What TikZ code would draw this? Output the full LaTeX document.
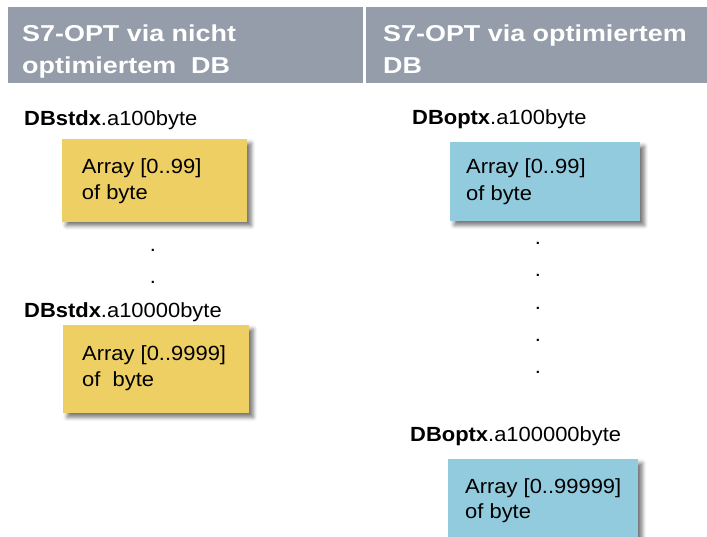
\documentclass[tikz,border=0pt]{standalone}
\usepackage{fontspec}
\setmainfont{Liberation Sans}[FakeStretch=1.07]
\newfontfamily\headfont{Liberation Sans}[FakeStretch=1.17]
\usetikzlibrary{shadows.blur}

\definecolor{headgray}{RGB}{148,157,169}
\definecolor{boxyellow}{RGB}{237,207,99}
\definecolor{boxblue}{RGB}{146,203,221}

\tikzset{
  headband/.style={fill=headgray, draw=none},
  headtxt/.style={text=white, anchor=base west, inner sep=0pt,
    font=\headfont\bfseries\fontsize{23}{27}\selectfont},
  bodytxt/.style={anchor=base west, inner sep=0pt,
    font=\fontsize{20.5}{24}\selectfont},
  dotmark/.style={anchor=base, inner sep=0pt,
    font=\fontsize{20.5}{24}\selectfont},
  arraybox/.style={draw=none, anchor=north west, inner sep=0pt,
    blur shadow={shadow xshift=4pt, shadow yshift=-4pt,
      shadow blur radius=4pt, shadow opacity=55}},
  ybox/.style={arraybox, fill=boxyellow},
  bbox/.style={arraybox, fill=boxblue}
}

\begin{document}
\begin{tikzpicture}[x=1pt, y=-1pt]
\useasboundingbox (0,0) rectangle (707,537);

% header bands
\fill[headband] (8,7.3) rectangle (363,83.3);
\fill[headband] (365.5,7.3) rectangle (707,83.3);
\node[headtxt] (hl1) at (22,41.7) {S7-OPT via nicht};
\node[headtxt] (hl2) at (22,74) {optimiertem\ \ DB};
\node[headtxt] (hr1) at (383,41.7) {S7-OPT via optimiertem};
\node[headtxt] (hr2) at (383,74) {DB};

% left column: standard data block
\node[bodytxt] (l1) at (24,126) {\textbf{DBstdx}.a100byte};
\node[ybox, minimum width=185pt, minimum height=82.5pt] (lb1) at (62,139) {};
\node[bodytxt] (lb1a) at (81.7,173.3) {Array [0..99]};
\node[bodytxt] (lb1b) at (81.7,200) {of byte};

\node[dotmark] (ld1) at (153,251.5) {.};
\node[dotmark] (ld2) at (153,283.5) {.};

\node[bodytxt] (l2) at (24,318) {\textbf{DBstdx}.a10000byte};
\node[ybox, minimum width=186pt, minimum height=88pt] (lb2) at (63,325) {};
\node[bodytxt] (lb2a) at (82,360) {Array [0..9999]};
\node[bodytxt] (lb2b) at (82,386) {of\ \ byte};

% right column: optimized data block
\node[bodytxt] (r1) at (412,125) {\textbf{DBoptx}.a100byte};
\node[bbox, minimum width=190pt, minimum height=79pt] (rb1) at (450,142) {};
\node[bodytxt] (rb1a) at (466,174) {Array [0..99]};
\node[bodytxt] (rb1b) at (466,200.5) {of byte};

\foreach \yy [count=\i] in {243,275,308,340,372}
  \node[dotmark] (rd\i) at (538,\yy+1.5) {.};

\node[bodytxt] (r2) at (410,441.7) {\textbf{DBoptx}.a100000byte};
\node[bbox, minimum width=190pt, minimum height=95pt] (rb2) at (448,459) {};
\node[bodytxt] (rb2a) at (465,493) {Array [0..99999]};
\node[bodytxt] (rb2b) at (465,518) {of byte};
\end{tikzpicture}
\end{document}
